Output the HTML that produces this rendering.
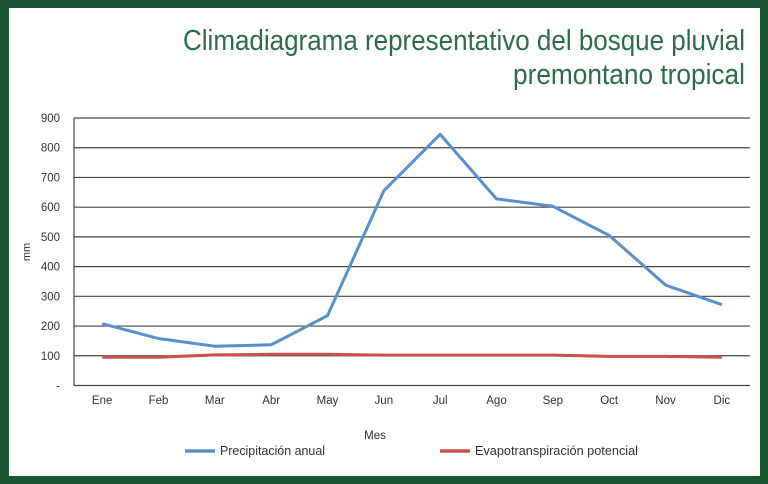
<!DOCTYPE html>
<html><head><meta charset="utf-8"><style>
html,body{margin:0;padding:0;background:#1d5a35;}
svg{display:block;font-family:"Liberation Sans",sans-serif;}
</style></head><body>
<svg width="768" height="484">
<rect x="0" y="0" width="768" height="484" fill="#1b5632"/>
<rect x="9" y="8" width="751" height="468" fill="#ffffff"/>
<text x="745" y="50" text-anchor="end" font-size="29" fill="#2f6b4b" textLength="562" lengthAdjust="spacingAndGlyphs">Climadiagrama representativo del bosque pluvial</text>
<text x="745" y="84" text-anchor="end" font-size="29" fill="#2f6b4b" textLength="232" lengthAdjust="spacingAndGlyphs">premontano tropical</text>
<g id="grid"></g><g id="ylab"></g><g id="xlab"></g><g id="series"></g>
<text x="30" y="252" transform="rotate(-90 30 252)" text-anchor="middle" font-size="11" fill="#333">mm</text>
<text x="375" y="439" text-anchor="middle" font-size="11.5" fill="#333">Mes</text>
<g>
<line x1="185" y1="451" x2="215" y2="451" stroke="#5b8ecb" stroke-width="3.5"/>
<text x="220" y="455" font-size="12.5" fill="#333" textLength="105" lengthAdjust="spacingAndGlyphs">Precipitación anual</text></g>
<g>
<line x1="440" y1="451" x2="470" y2="451" stroke="#c9524e" stroke-width="3.5"/>
<text x="475" y="455" font-size="12.5" fill="#333" textLength="163" lengthAdjust="spacingAndGlyphs">Evapotranspiración potencial</text></g>
</svg>
<script>
const months=["Ene","Feb","Mar","Abr","May","Jun","Jul","Ago","Sep","Oct","Nov","Dic"];
const precip=[208,158,132,137,235,655,845,628,603,505,338,272];
const evap=[95,95,103,105,105,102,102,102,102,98,98,95];
const yTicks=[0,100,200,300,400,500,600,700,800,900];
const yTickLabels=["-","100","200","300","400","500","600","700","800","900"];
const NS="http://www.w3.org/2000/svg";
const L=74,R=750,T=118,B=385.5,YMAX=900;
const y=v=>B-(v/YMAX)*(B-T);
const bw=(R-L)/months.length;
const x=i=>L+bw*(i+0.5);
function mk(t,a,p){const e=document.createElementNS(NS,t);for(const k in a)e.setAttribute(k,a[k]);p.appendChild(e);return e;}
const grid=document.getElementById('grid'),yl=document.getElementById('ylab'),xl=document.getElementById('xlab'),se=document.getElementById('series');
yTicks.forEach((v,i)=>{
 const g=mk('line',{x1:L,x2:R,y1:y(v),y2:y(v),stroke:'#444','stroke-width':1.2},grid);
 
 
 const t=mk('text',{x:60,y:y(v)+4,'text-anchor':'end','font-size':11.5,fill:'#333'},yl);
 t.textContent=yTickLabels[i];
 
 
});
const ax=mk('line',{x1:L,x2:L,y1:T,y2:B,stroke:'#444','stroke-width':1.2},grid);


months.forEach((m,i)=>{
 const t=mk('text',{x:x(i),y:404,'text-anchor':'middle','font-size':11.5,fill:'#333'},xl);
 t.textContent=m;
 
 
});
function line(data,color,name){
 const p=mk('polyline',{points:data.map((v,i)=>x(i)+','+y(v)).join(' '),fill:'none',stroke:color,'stroke-width':3,'stroke-linejoin':'round'},se);
 
 
}
line(evap,'#c9524e','evapotranspiracion-line');
line(precip,'#5b8ecb','precipitacion-line');
</script>
</body></html>
